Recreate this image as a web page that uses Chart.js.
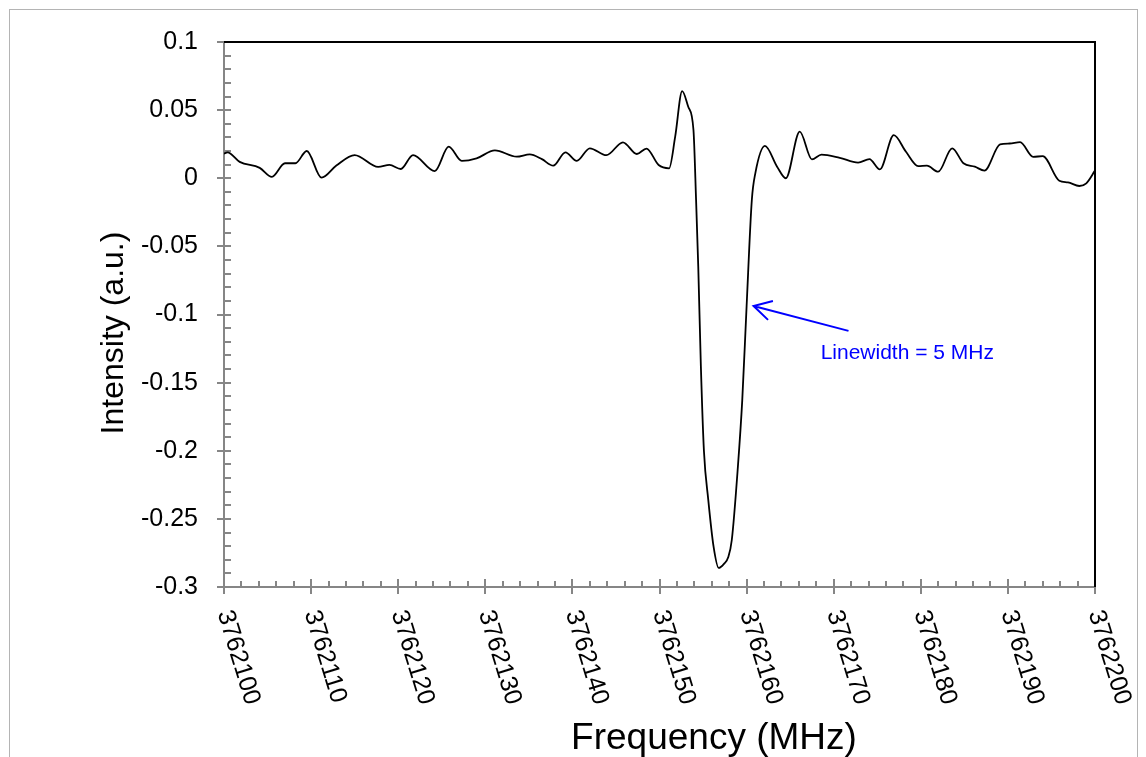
<!DOCTYPE html>
<html>
<head>
<meta charset="utf-8">
<script src="https://cdn.jsdelivr.net/npm/chart.js@4"></script>
<style>
  html, body { margin: 0; padding: 0; background: #fff; }
  #wrap { width: 1146px; height: 757px; position: relative; }
</style>
</head>
<body>
<div id="wrap"><canvas id="spectrum"></canvas></div>
<script>
const FONT = "'Liberation Sans', Arial, sans-serif";

// frequency (MHz) and measured intensity (a.u.)
const frequency = [
  3762100.0, 3762100.4, 3762101.8, 3762104.1, 3762105.5, 3762107.0, 3762108.2,
  3762109.5, 3762111.2, 3762112.9, 3762115.0, 3762117.7, 3762119.0, 3762120.3,
  3762121.7, 3762124.2, 3762125.8, 3762127.3, 3762129.0, 3762131.1, 3762133.6,
  3762135.1, 3762136.5, 3762137.8, 3762139.2, 3762140.5, 3762142.0, 3762143.9,
  3762145.8, 3762147.4, 3762148.5, 3762149.9, 3762151.1, 3762151.8, 3762152.6,
  3762153.3, 3762153.9, 3762154.2, 3762154.45, 3762154.75, 3762155.1, 3762155.6,
  3762156.2, 3762156.8, 3762157.4, 3762157.9, 3762158.3, 3762159.0, 3762159.5,
  3762160.0, 3762160.6, 3762161.0, 3762162.1, 3762163.5, 3762164.5, 3762166.1,
  3762167.5, 3762168.6, 3762170.7, 3762172.8, 3762174.1, 3762175.3, 3762176.9,
  3762178.3, 3762179.7, 3762180.7, 3762182.0, 3762183.6, 3762184.9, 3762186.2,
  3762187.3, 3762189.1, 3762190.2, 3762191.4, 3762192.9, 3762194.0, 3762195.9,
  3762196.9, 3762198.2, 3762199.0, 3762200.0,
];
const intensity = [
  0.018, 0.019, 0.012, 0.0076, 0.001, 0.011, 0.011,
  0.020, 0.0004, 0.0093, 0.017, 0.0083, 0.0098, 0.0068,
  0.017, 0.0053, 0.0232, 0.0127, 0.0146, 0.0205, 0.0158,
  0.0175, 0.014, 0.0092, 0.019, 0.0128, 0.022, 0.0169,
  0.0264, 0.0178, 0.0218, 0.0097, 0.0073, 0.0305, 0.064,
  0.0525, 0.0354, -0.016, -0.065, -0.138, -0.2, -0.236,
  -0.27, -0.286, -0.283, -0.278, -0.2655, -0.2117, -0.163,
  -0.094, -0.016, 0.0036, 0.0237, 0.0085, 0.0, 0.0342,
  0.0139, 0.0174, 0.015, 0.0115, 0.014, 0.0065, 0.0316,
  0.0194, 0.0089, 0.0092, 0.0048, 0.022, 0.011, 0.0085,
  0.0056, 0.0248, 0.0255, 0.0265, 0.0157, 0.0162, -0.0018,
  -0.003, -0.0057, -0.0037, 0.0056,
];

const xTicks = [3762100, 3762110, 3762120, 3762130, 3762140, 3762150,
  3762160, 3762170, 3762180, 3762190, 3762200];

// linewidth note: arrow tail, arrow tip, text anchor (MHz, a.u.)
const noteText = "Linewidth = 5 MHz";
const noteTail = [3762171.7, -0.112];
const noteTip = [3762160.8, -0.0938];
const noteAt = [3762168.5, -0.1327];

const points = frequency.map((f, i) => ({ x: f, y: intensity[i] }));

// axes in the Excel style: grey left/bottom with crossing major ticks,
// inner minor ticks, black top/right frame, rotated frequency labels
const framePlugin = {
  id: "frame",
  beforeDatasetsDraw(chart) {
    const { ctx, chartArea: a, scales } = chart;
    const x = scales.x, y = scales.y;
    ctx.save();
    // outer chart border
    ctx.strokeStyle = "#b4b4b4";
    ctx.lineWidth = 1;
    ctx.strokeRect(9.5, 9.5, 1128, 800);

    ctx.strokeStyle = "#868686";
    ctx.lineWidth = 2;
    ctx.beginPath();
    // y minor ticks (0.01)
    for (let i = 0; i <= 40; i++) {
      const py = Math.round(y.getPixelForValue(-0.3 + i * 0.01));
      if (i % 5 === 0) {
        ctx.moveTo(a.left - 7, py); ctx.lineTo(a.left + 7, py);
      } else {
        ctx.moveTo(a.left, py); ctx.lineTo(a.left + 7, py);
      }
    }
    // x minor ticks (2 MHz)
    for (let i = 0; i <= 50; i++) {
      const px = Math.round(x.getPixelForValue(3762100 + i * 2));
      if (i % 5 === 0) {
        ctx.moveTo(px, a.bottom - 8); ctx.lineTo(px, a.bottom + 7);
      } else {
        ctx.moveTo(px, a.bottom - 6); ctx.lineTo(px, a.bottom);
      }
    }
    ctx.moveTo(a.left, a.top); ctx.lineTo(a.left, a.bottom);
    ctx.moveTo(a.left, a.bottom); ctx.lineTo(a.right, a.bottom);
    ctx.stroke();

    ctx.strokeStyle = "#000";
    ctx.beginPath();
    ctx.moveTo(a.left, a.top); ctx.lineTo(a.right, a.top);
    ctx.lineTo(a.right, a.bottom);
    ctx.stroke();
    ctx.restore();
  },
  afterDraw(chart) {
    const { ctx, scales } = chart;
    const x = scales.x, y = scales.y;
    ctx.save();
    ctx.fillStyle = "#000";

    // rotated frequency labels
    ctx.font = "25px " + FONT;
    ctx.textAlign = "left";
    ctx.textBaseline = "middle";
    xTicks.forEach(t => {
      ctx.save();
      ctx.translate(x.getPixelForValue(t), 611);
      ctx.rotate(73 * Math.PI / 180);
      ctx.fillText(String(t), 0, 0);
      ctx.restore();
    });

    // axis titles
    ctx.textAlign = "center";
    ctx.textBaseline = "alphabetic";
    ctx.font = "37px " + FONT;
    ctx.fillText("Frequency (MHz)", 714, 749);
    ctx.save();
    ctx.translate(123, 333);
    ctx.rotate(-Math.PI / 2);
    ctx.font = "32px " + FONT;
    ctx.fillText("Intensity (a.u.)", 0, 0);
    ctx.restore();

    // linewidth arrow and note
    const tx = x.getPixelForValue(noteTip[0]), ty = y.getPixelForValue(noteTip[1]);
    const sx = x.getPixelForValue(noteTail[0]), sy = y.getPixelForValue(noteTail[1]);
    const ang = Math.atan2(sy - ty, sx - tx);
    const head = 20, spread = 29 * Math.PI / 180;
    ctx.strokeStyle = "#0000ff";
    ctx.lineWidth = 2;
    ctx.beginPath();
    ctx.moveTo(sx, sy); ctx.lineTo(tx, ty);
    ctx.moveTo(tx + head * Math.cos(ang - spread), ty + head * Math.sin(ang - spread));
    ctx.lineTo(tx, ty);
    ctx.lineTo(tx + head * Math.cos(ang + spread), ty + head * Math.sin(ang + spread));
    ctx.stroke();
    ctx.fillStyle = "#0000ff";
    ctx.font = "21px " + FONT;
    ctx.textAlign = "left";
    ctx.fillText(noteText, x.getPixelForValue(noteAt[0]), y.getPixelForValue(noteAt[1]));
    ctx.restore();
  },
};

new Chart(document.getElementById("spectrum").getContext("2d"), {
  type: "line",
  data: {
    datasets: [
      {
        label: "Intensity",
        data: points,
        borderColor: "#000",
        borderWidth: 1.8,
        pointRadius: 0,
        fill: false,
        cubicInterpolationMode: "monotone",
      },
    ],
  },
  options: {
    responsive: true,
    maintainAspectRatio: false,
    animation: false,
    layout: { padding: { top: 42, right: 51, left: 0, bottom: 0 } },
    plugins: { legend: { display: false }, tooltip: { enabled: false } },
    scales: {
      x: {
        type: "linear",
        min: 3762100,
        max: 3762200,
        grid: { display: false },
        border: { display: false },
        ticks: { display: false },
        afterFit: s => { s.height = 170; },
      },
      y: {
        min: -0.3,
        max: 0.1,
        grid: { display: false },
        border: { display: false },
        ticks: {
          stepSize: 0.05,
          padding: 18,
          color: "#000",
          font: { family: FONT, size: 25 },
          callback: v => String(Number(v.toFixed(2))),
        },
        afterFit: s => { s.width = 224; },
      },
    },
  },
  plugins: [framePlugin],
});
</script>
</body>
</html>
